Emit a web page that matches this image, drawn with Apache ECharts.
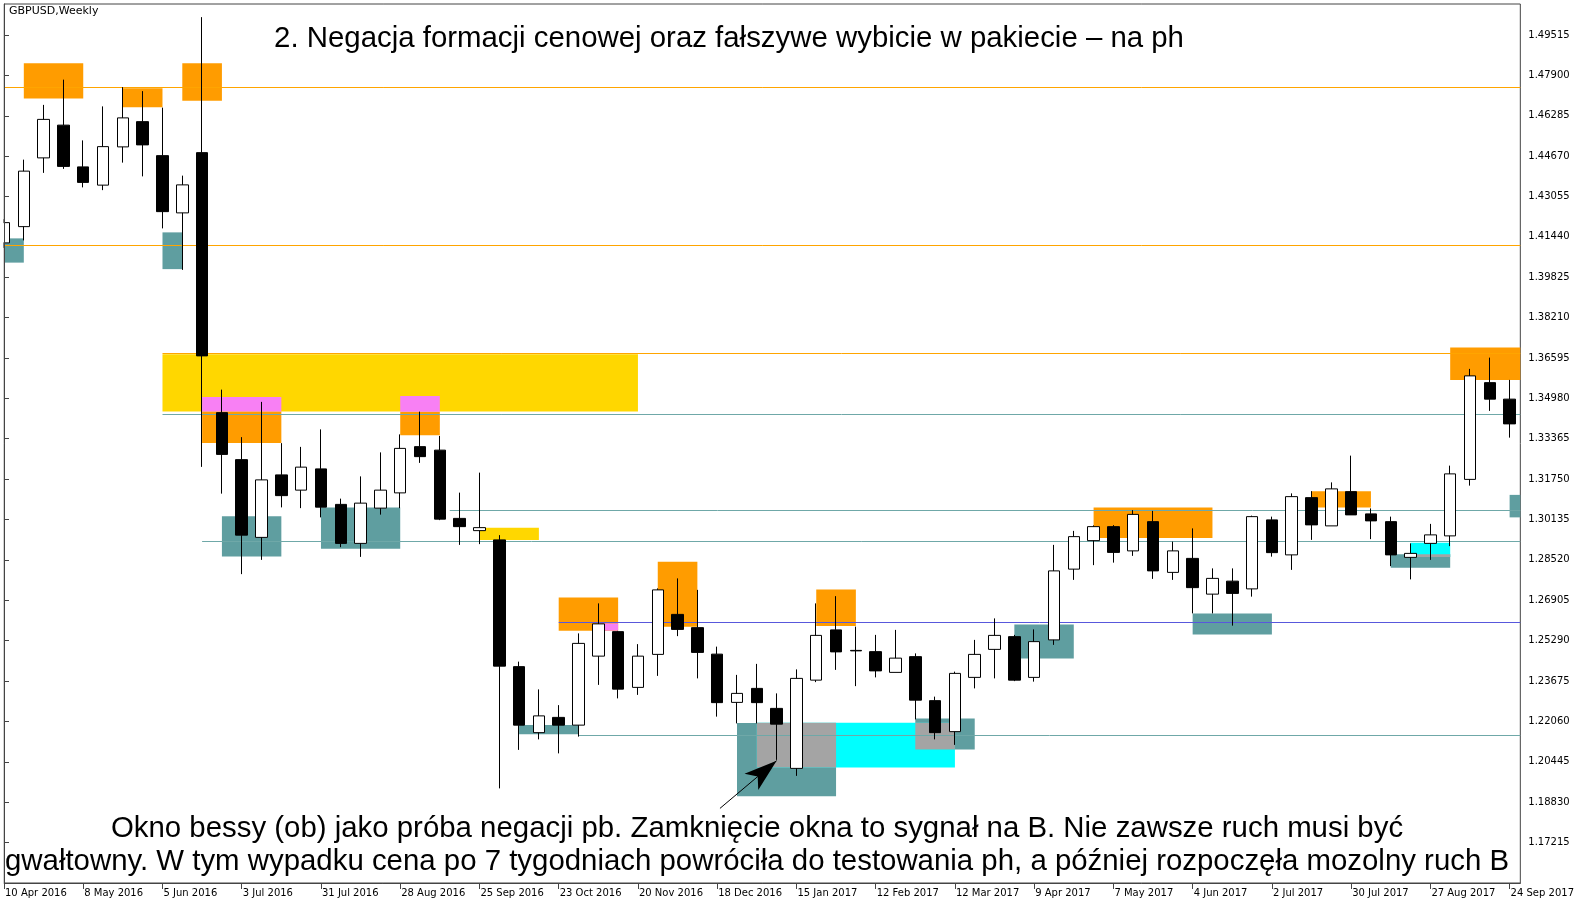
<!DOCTYPE html>
<html>
<head>
<meta charset="utf-8">
<script src="https://cdn.jsdelivr.net/npm/echarts@6/dist/echarts.min.js"></script>
<style>
html, body { margin: 0; padding: 0; background: #fff; }
#chart { width: 1577px; height: 901px; }
</style>
</head>
<body>
<div id="chart"></div>
<script>
// weekly GBPUSD, bar index 0 = week of 10 Apr 2016
var opens  = [1.4120,1.4185,1.4460,1.4591,1.4424,1.4351,1.4504,1.4605,1.4469,1.4240,
              1.4481,1.3441,1.3253,1.2942,1.3192,1.3131,1.3216,1.3074,1.2918,1.3059,
              1.3120,1.3305,1.3291,1.3018,1.2969,1.2932,1.2425,1.2161,1.2222,1.2191,
              1.2467,1.2565,1.2342,1.2474,1.2634,1.2581,1.2475,1.2282,1.2338,1.2258,
              1.2018,1.2371,1.2572,1.2490,1.2485,1.2402,1.2465,1.2289,1.2165,1.2382,
              1.2494,1.2545,1.2382,1.2532,1.2815,1.2929,1.2985,1.2888,1.3005,1.2802,
              1.2858,1.2715,1.2767,1.2736,1.3012,1.2872,1.3101,1.2988,1.3125,1.3036,
              1.3005,1.2862,1.2918,1.2948,1.3174,1.3561,1.3495];
var closes = [1.4201,1.4407,1.4614,1.4426,1.4362,1.4505,1.4620,1.4512,1.4245,1.4352,
              1.3668,1.3274,1.2951,1.3172,1.3109,1.3223,1.3063,1.2918,1.3079,1.3131,
              1.3298,1.3265,1.3015,1.2985,1.2981,1.2427,1.2191,1.2228,1.2191,1.2518,
              1.2596,1.2335,1.2467,1.2732,1.2574,1.2482,1.2281,1.2318,1.2281,1.2195,
              1.2378,1.2550,1.2484,1.2488,1.2408,1.2459,1.2291,1.2161,1.2398,1.2474,
              1.2550,1.2371,1.2525,1.2808,1.2945,1.2985,1.2882,1.3034,1.2808,1.2888,
              1.2741,1.2778,1.2718,1.3025,1.2881,1.3105,1.2992,1.3136,1.3032,1.3008,
              1.2872,1.2878,1.2952,1.3196,1.3588,1.3495,1.3396];
var lows   = [1.4100,1.4130,1.4400,1.4416,1.4342,1.4331,1.4441,1.4386,1.4178,1.4012,
              1.3224,1.3117,1.2795,1.2852,1.3062,1.3059,1.3022,1.2903,1.2864,1.3033,
              1.3059,1.3240,1.3011,1.2912,1.2915,1.1938,1.2092,1.2134,1.2078,1.2145,
              1.2352,1.2298,1.2312,1.2388,1.2547,1.2378,1.2225,1.2198,1.2198,1.2052,
              1.1988,1.2363,1.2412,1.2347,1.2382,1.2402,1.2214,1.2134,1.2112,1.2338,
              1.2378,1.2367,1.2365,1.2512,1.2772,1.2831,1.2841,1.2868,1.2776,1.2772,
              1.2638,1.2638,1.2589,1.2705,1.2865,1.2812,1.2932,1.2988,1.3032,1.2935,
              1.2827,1.2774,1.2852,1.2907,1.3149,1.3448,1.3341];
var highs  = [1.4215,1.4453,1.4672,1.4773,1.4530,1.4666,1.4743,1.4727,1.4661,1.4389,
              1.5023,1.3533,1.3343,1.3484,1.3319,1.3304,1.3374,1.3097,1.3186,1.3282,
              1.3354,1.3445,1.3348,1.3121,1.3201,1.2951,1.2445,1.2334,1.2271,1.2558,
              1.2678,1.2568,1.2515,1.2738,1.2778,1.2732,1.2505,1.2392,1.2436,1.2318,
              1.2414,1.2678,1.2707,1.2585,1.2552,1.2572,1.2478,1.2305,1.2405,1.2532,
              1.2618,1.2552,1.2574,1.2912,1.2968,1.2990,1.2991,1.3051,1.3048,1.2925,
              1.2978,1.2818,1.2818,1.3029,1.3025,1.3118,1.3127,1.3162,1.3269,1.3058,
              1.3025,1.2918,1.2996,1.3229,1.3616,1.3661,1.3572];

var xTickIdx  = [0,4,8,12,16,20,24,28,32,36,40,44,48,52,56,60,64,68,72,76];
var xTickText = ['10 Apr 2016','8 May 2016','5 Jun 2016','3 Jul 2016','31 Jul 2016','28 Aug 2016',
                 '25 Sep 2016','23 Oct 2016','20 Nov 2016','18 Dec 2016','15 Jan 2017','12 Feb 2017',
                 '12 Mar 2017','9 Apr 2017','7 May 2017','4 Jun 2017','2 Jul 2017','30 Jul 2017',
                 '27 Aug 2017','24 Sep 2017'];
var yTickValues = [1.17215,1.18830,1.20445,1.22060,1.23675,1.25290,1.26905,1.28520,1.30135,1.31750,
                   1.33365,1.34980,1.36595,1.38210,1.39825,1.41440,1.43055,1.44670,1.46285,1.47900,1.49515];

// zones: [fromBar, toBar, lowPrice, highPrice]
var goldZones   = [[8,32,1.3446,1.3675],[24,27,1.2932,1.2981]];
var orangeZones = [[1,4,1.4698,1.4839],[6,8,1.4663,1.4739],[9,11,1.4689,1.4839],[10,14,1.3320,1.3446],
                   [20,22,1.3351,1.3445],[28,31,1.2569,1.2702],[33,35,1.2585,1.2845],[41,43,1.2588,1.2734],
                   [55,61,1.2940,1.3062],[66,69,1.3062,1.3127],[73,76.54,1.3572,1.3702]];
var tealZones   = [[0,1,1.4041,1.4138],[8,9,1.4015,1.4162],[11,14,1.2866,1.3027],[16,20,1.2897,1.3062],
                   [26,29,1.2155,1.2192],[37,42,1.1907,1.2200],[46,49,1.2094,1.2218],[51,54,1.2458,1.2594],
                   [60,64,1.2554,1.2638],[70,73,1.2821,1.2875],[76,76.54,1.3022,1.3112]];
var cyanZones   = [[38,48,1.2022,1.2201],[71,73,1.2864,1.2921]];
var greyZones   = [[38,42,1.2022,1.2201],[46,48,1.2094,1.2201],[71,73,1.2864,1.2875]];
var violetZones = [[10,14,1.3446,1.3504],[20,22,1.3445,1.3508],[30,31,1.2569,1.2598]];

// horizontal levels: [fromBar, price]
var orangeLevels = [[0,1.4741],[0,1.4110],[8,1.3678]];
var tealLevels   = [[8,1.3434],[22.5,1.3049],[10,1.2928],[29,1.2152]];
var blueLevels   = [[28,1.2601]];

// arrow: [bar, price] tail and tip
var arrowFrom = [36.14, 1.1858];
var arrowTo   = [39.0, 1.2049];

var xMax = 76.54;
var yMin = 1.15595, yMax = 1.50755;

var chart = echarts.init(document.getElementById('chart'));

function zoneSeries(name, zones, color) {
    return {
        name: name,
        type: 'line',
        data: [],
        z: 1,
        silent: true,
        markArea: {
            silent: true,
            itemStyle: { color: color, opacity: 1, borderWidth: 0 },
            data: zones.map(function(z) {
                return [{ coord: [z[0], z[3]] }, { coord: [z[1], z[2]] }];
            })
        }
    };
}

function levelSeries(name, levels, color) {
    return {
        name: name,
        type: 'line',
        data: [],
        z: 2,
        silent: true,
        markLine: {
            silent: true,
            symbol: ['none', 'none'],
            label: { show: false },
            lineStyle: { color: color, width: 1, type: 'solid' },
            data: levels.map(function(l) {
                return [{ coord: [l[0], l[1]] }, { coord: [xMax, l[1]] }];
            })
        }
    };
}

var ohlc = [];
for (var i = 0; i < opens.length; i++) {
    ohlc.push([i, opens[i], closes[i], lows[i], highs[i]]);
}

var mainTitle = '2. Negacja formacji cenowej oraz fałszywe wybicie w pakiecie – na ph';
var noteLine1 = 'Okno bessy (ob) jako próba negacji pb. Zamknięcie okna to sygnał na B. Nie zawsze ruch musi być';
var noteLine2 = 'gwałtowny. W tym wypadku cena po 7 tygodniach powróciła do testowania ph, a później rozpoczęła mozolny ruch B';
var textFont = '29.4px "Liberation Sans"';

chart.setOption({
    animation: false,
    grid: {
        left: 4, right: 53, top: 4, bottom: 18,
        show: true, borderColor: '#444', borderWidth: 1, backgroundColor: '#fff'
    },
    xAxis: {
        type: 'value',
        min: 0,
        max: xMax,
        splitLine: { show: false },
        axisLine: { show: true, lineStyle: { color: '#444' } },
        axisTick: { show: true, length: 6, customValues: xTickIdx, lineStyle: { color: '#444' } },
        axisLabel: {
            customValues: xTickIdx,
            align: 'left',
            margin: 5,
            padding: [0, 0, 0, 1],
            color: '#000',
            fontFamily: 'DejaVu Sans',
            fontSize: 10,
            formatter: function(v) {
                return xTickText[xTickIdx.indexOf(Math.round(v))] || '';
            }
        }
    },
    yAxis: {
        type: 'value',
        position: 'right',
        min: yMin,
        max: yMax,
        scale: true,
        splitLine: { show: false },
        axisLine: { show: true, lineStyle: { color: '#444' } },
        axisTick: { show: true, inside: false, length: 5, customValues: yTickValues, lineStyle: { color: '#444' } },
        axisLabel: {
            customValues: yTickValues,
            margin: 8,
            color: '#000',
            fontFamily: 'DejaVu Sans',
            fontSize: 10,
            formatter: function(v) { return v.toFixed(5); }
        }
    },
    series: [
        zoneSeries('gold', goldZones, '#FFD700'),
        zoneSeries('orange', orangeZones, '#FF9C00'),
        zoneSeries('teal', tealZones, '#5F9EA0'),
        zoneSeries('cyan', cyanZones, '#00FFFF'),
        zoneSeries('grey', greyZones, '#A4A4A4'),
        zoneSeries('violet', violetZones, '#F880F4'),
        levelSeries('orangeLevels', orangeLevels, '#FFA500'),
        levelSeries('tealLevels', tealLevels, '#6FA8A8'),
        levelSeries('blueLevels', blueLevels, '#5858DC'),
        {
            name: 'GBPUSD',
            type: 'candlestick',
            z: 5,
            barWidth: 12,
            dimensions: ['bar', 'open', 'close', 'low', 'high'],
            encode: { x: 0, y: [1, 2, 3, 4] },
            data: ohlc,
            itemStyle: {
                color: '#ffffff',
                color0: '#000000',
                borderColor: '#000000',
                borderColor0: '#000000',
                borderWidth: 1
            }
        },
        {
            name: 'arrow',
            type: 'line',
            data: [],
            z: 6,
            silent: true,
            markLine: {
                silent: true,
                label: { show: false },
                lineStyle: { color: '#000', width: 1, type: 'solid' },
                data: [[
                    { coord: arrowFrom, symbol: 'none' },
                    { coord: arrowTo, symbol: 'arrow', symbolSize: [16, 33] }
                ]]
            }
        }
    ],
    graphic: [
        { type: 'rect', z: 50, shape: { x: 0, y: 0, width: 3.5, height: 901 }, style: { fill: '#fff' } },
        { type: 'line', z: 51, shape: { x1: 4.5, y1: 4, x2: 4.5, y2: 883 }, style: { stroke: '#444', lineWidth: 1 } },
        { type: 'text', x: 9, y: 6, style: { text: 'GBPUSD,Weekly', font: '11px "DejaVu Sans"', fill: '#000' } },
        { type: 'text', x: 729, y: 39, style: { text: mainTitle, font: textFont, fill: '#000', align: 'center', verticalAlign: 'middle' } },
        { type: 'text', x: 757, y: 829, style: { text: noteLine1, font: textFont, fill: '#000', align: 'center', verticalAlign: 'middle' } },
        { type: 'text', x: 757, y: 862, style: { text: noteLine2, font: textFont, fill: '#000', align: 'center', verticalAlign: 'middle' } }
    ]
});
</script>
</body>
</html>
